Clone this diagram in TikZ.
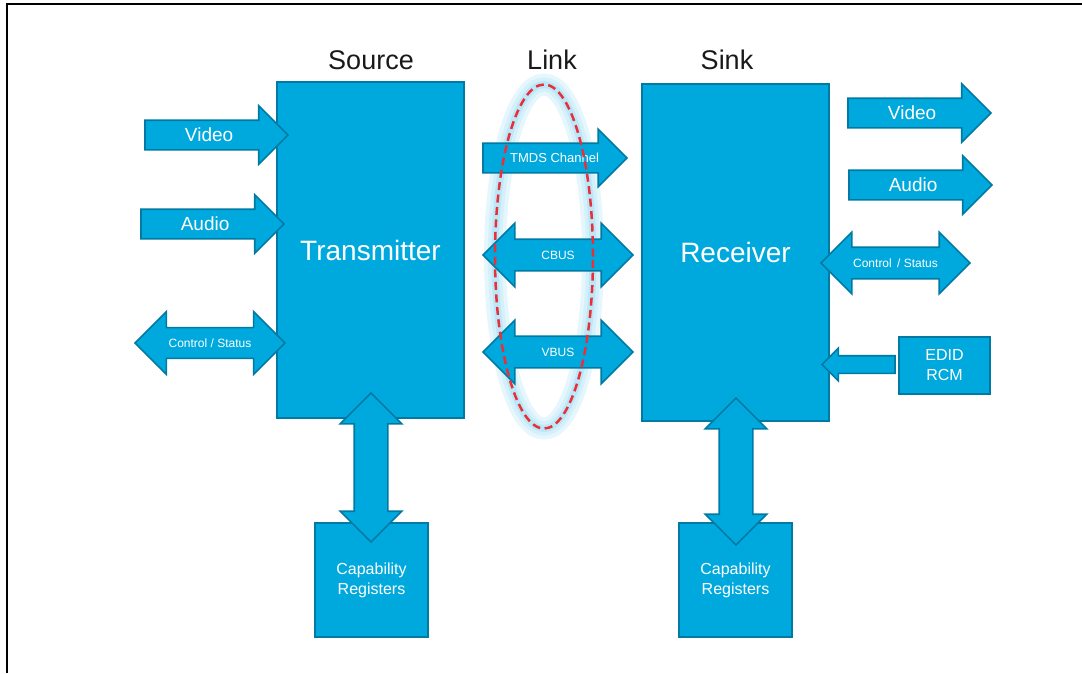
\documentclass[tikz,border=0pt]{standalone}
\usepackage{fontspec}
\setmainfont{Liberation Sans}
\usetikzlibrary{shapes.arrows}
\usetikzlibrary{shapes.geometric}

\definecolor{hdmiblue}{RGB}{0,169,221}
\definecolor{hdmiedge}{RGB}{0,122,163}
\definecolor{linkred}{RGB}{232,48,56}
\definecolor{haloout}{RGB}{230,246,253}
\definecolor{halomid}{RGB}{212,240,251}
\definecolor{haloin}{RGB}{188,231,249}
\definecolor{headtext}{RGB}{25,25,25}

\begin{document}
\begin{tikzpicture}[x=1pt,y=-1pt,
    heading/.style={anchor=base,text=headtext,font=\fontsize{27}{30}\selectfont},
    blk/.style={draw=hdmiedge,fill=hdmiblue,line width=1.6pt,text=white,inner sep=0pt,outer sep=0pt,align=center},
    fat/.style={single arrow,draw=hdmiedge,fill=hdmiblue,line width=1.6pt,text=white,inner xsep=0pt,outer sep=0pt,
        text height=13.6pt,text depth=0pt,inner ysep=7.2pt,
        minimum height=143pt,minimum width=57pt,single arrow head extend=14.5pt,font=\fontsize{19}{22}\selectfont},
    fatboth/.style={double arrow,draw=hdmiedge,fill=hdmiblue,line width=1.6pt,text=white,inner xsep=0pt,outer sep=0pt,
        text height=8.6pt,text depth=0pt,inner ysep=10.7pt,
        minimum height=150pt,minimum width=60pt,double arrow head extend=15pt,font=\fontsize{12}{14}\selectfont},
    bare/.style={text height=0pt,text depth=0pt,inner ysep=#1},
    ring/.style={ellipse,inner sep=0pt,outer sep=0pt,minimum width=98pt,minimum height=344pt}]

    \useasboundingbox (0,0) rectangle (1082,673);
    \draw[line width=2pt] (7,673) -- (7,4) -- (1082,4);

    \node[heading] (source) at (371,69) {Source};
    \node[heading] (linklbl) at (552,69) {Link};
    \node[heading] (sink) at (727,69) {Sink};

    \node[ring,draw=haloout,line width=22pt] (haloA) at (544,256.5) {};
    \node[ring,draw=halomid,line width=14pt] (haloB) at (544,256.5) {};
    \node[ring,draw=haloin,line width=7pt] (haloC) at (544,256.5) {};

    \node[blk,minimum width=187pt,minimum height=336pt,font=\fontsize{28}{32}\selectfont] (tx) at (370.5,250) {Transmitter};
    \node[blk,minimum width=187pt,minimum height=337pt,font=\fontsize{28}{32}\selectfont] (rx) at (735.5,252.5) {Receiver};
    \node[blk,minimum width=113pt,minimum height=114pt,font=\fontsize{16}{20}\selectfont] (txcap) at (371.5,580) {Capability\\Registers};
    \node[blk,minimum width=113pt,minimum height=114pt,font=\fontsize{16}{20}\selectfont] (rxcap) at (735.5,580) {Capability\\Registers};
    \node[blk,minimum width=91pt,minimum height=57pt,font=\fontsize{16}{20}\selectfont] (edid) at (944.5,365.5) {EDID\\RCM};

    \node[fat,anchor=tip] (vidin) at (288,135) {Video};
    \node[fat,anchor=tip] (audin) at (284,224) {Audio};
    \node[fatboth,inner ysep=10.3pt,double arrow head extend=16pt] (ctlin) at (210,343) {Control / Status};

    \node[fat,anchor=tip,minimum height=144pt,minimum width=56pt,single arrow head extend=14pt,
        text height=9.3pt,inner ysep=9.35pt,font=\fontsize{13}{15}\selectfont] (tmds) at (627,158) {\hspace*{14pt}TMDS Channel};
    \node[fatboth,minimum width=62pt,double arrow head extend=16pt] (cbus) at (558,255) {CBUS};
    \node[fatboth,minimum width=62pt,double arrow head extend=16pt] (vbus) at (558,352) {VBUS};

    \node[fat,anchor=tip] (vidout) at (991,113) {Video};
    \node[fat,anchor=tip,minimum width=58pt] (audout) at (992,185) {Audio};
    \node[fatboth,minimum height=149pt] (ctlout) at (895.5,263) {Control \,/ Status};
    \node[fat,bare=8pt,rotate=180,anchor=tip,minimum height=73pt,minimum width=31pt,single arrow head extend=7.5pt] (edidin) at (822,364.5) {};

    \node[fatboth,bare=16pt,rotate=90,minimum height=149pt,double arrow head extend=14pt] (txreg) at (371,467.5) {};
    \node[fatboth,bare=16pt,rotate=90,minimum height=147pt,double arrow head extend=14pt] (rxreg) at (736,471.5) {};

    \node[ring,draw=linkred,line width=2.5pt,dash pattern=on 8pt off 4.5pt] (link) at (544,256.5) {};
\end{tikzpicture}
\end{document}
